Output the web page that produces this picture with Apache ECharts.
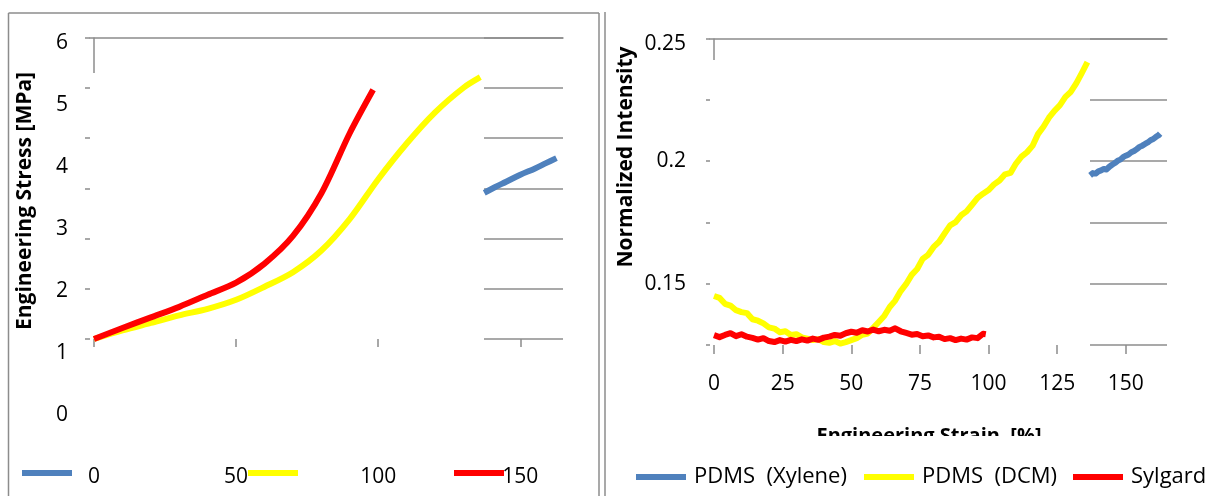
<!DOCTYPE html>
<html>
<head>
<meta charset="utf-8">
<script src="https://cdn.jsdelivr.net/npm/echarts@6/dist/echarts.min.js"></script>
<style>
  html, body { margin: 0; padding: 0; background: #fff; }
  #main { width: 1205px; height: 496px; }
</style>
</head>
<body>
<div id="main"></div>
<script>
// left panel: engineering stress [MPa] vs strain [%]
const stressXylene = [[137.3, 2.91], [141, 3.02], [145, 3.13], [150, 3.27], [155, 3.39], [159, 3.5], [162.7, 3.6]];
const stressDcm = [[0, 0], [10, 0.17], [20, 0.32], [30, 0.47], [40, 0.6], [50, 0.78], [60, 1.04], [70, 1.33],
  [80, 1.76], [90, 2.39], [100, 3.18], [110, 3.89], [120, 4.51], [130, 5.0], [135.9, 5.21]];
const stressSylgard = [[0, 0], [10, 0.22], [20, 0.43], [30, 0.64], [40, 0.88], [50, 1.12], [60, 1.5], [70, 2.05],
  [80, 2.9], [90, 4.1], [98.2, 4.96]];

// right panel: normalized intensity vs strain [%]
const intensityXylene = [[137, 0.1942], [138, 0.1951], [139, 0.1949], [140, 0.1958], [141, 0.1962], [142, 0.1968],
  [143, 0.1966], [144, 0.1977], [145, 0.1985], [146, 0.1992], [147, 0.2001], [148, 0.2006], [149, 0.2016],
  [150, 0.2022], [151, 0.2027], [152, 0.2036], [153, 0.2041], [154, 0.2049], [155, 0.2058], [156, 0.2063],
  [157, 0.207], [158, 0.2076], [159, 0.2085], [160, 0.209], [161, 0.2099], [162, 0.2106], [162.5, 0.2112]];
const intensityDcm = [[0, 0.145], [2, 0.1442], [4, 0.1418], [6, 0.1411], [8, 0.1392], [10, 0.1384], [12, 0.138],
  [14, 0.1355], [16, 0.1349], [18, 0.1338], [20, 0.1322], [22, 0.1317], [24, 0.1302], [26, 0.1306], [28, 0.1291],
  [30, 0.1294], [32, 0.1281], [34, 0.1276], [36, 0.127], [38, 0.1274], [40, 0.1262], [42, 0.1259], [44, 0.1266],
  [46, 0.1256], [48, 0.1262], [50, 0.127], [52, 0.1278], [54, 0.1292], [56, 0.1297], [58, 0.132], [60, 0.1344],
  [62, 0.1368], [64, 0.1405], [66, 0.1431], [68, 0.147], [70, 0.1499], [72, 0.1536], [74, 0.156], [76, 0.1601],
  [78, 0.1618], [80, 0.165], [82, 0.1671], [84, 0.1705], [86, 0.1738], [88, 0.1751], [90, 0.1779], [92, 0.1795],
  [94, 0.1822], [96, 0.185], [98, 0.1867], [100, 0.1882], [102, 0.1905], [104, 0.1921], [106, 0.1946],
  [108, 0.1952], [110, 0.199], [112, 0.2018], [114, 0.2036], [116, 0.2062], [118, 0.211], [120, 0.214],
  [122, 0.2177], [124, 0.2205], [126, 0.2228], [128, 0.2262], [130, 0.2283], [132, 0.2318], [134, 0.236],
  [136, 0.2404]];
const intensitySylgard = [[0, 0.129], [2, 0.1282], [4, 0.1291], [6, 0.1298], [8, 0.1286], [10, 0.1294],
  [12, 0.1284], [14, 0.1279], [16, 0.1272], [18, 0.1278], [20, 0.1266], [22, 0.1262], [24, 0.127], [26, 0.1264],
  [28, 0.1271], [30, 0.1266], [32, 0.1273], [34, 0.1268], [36, 0.1276], [38, 0.1271], [40, 0.128], [42, 0.1284],
  [44, 0.1291], [46, 0.1288], [48, 0.1298], [50, 0.1304], [52, 0.13], [54, 0.131], [56, 0.1305], [58, 0.1313],
  [60, 0.1306], [62, 0.1312], [64, 0.1308], [66, 0.1318], [68, 0.1306], [70, 0.1299], [72, 0.1292], [74, 0.1295],
  [76, 0.1286], [78, 0.1289], [80, 0.1281], [82, 0.1284], [84, 0.1274], [86, 0.1278], [88, 0.127], [90, 0.1276],
  [92, 0.1272], [94, 0.1281], [96, 0.1278], [98, 0.1296], [99, 0.1294]];

// tick labels
const stressTicks = [0, 1, 2, 3, 4, 5, 6];
const leftStrainTicks = [0, 50, 100, 150];
const rightStrainTicks = [0, 25, 50, 75, 100, 125, 150];
const intensityTicks = [0.15, 0.2, 0.25];

const legendNames = ['PDMS  (Xylene)', 'PDMS  (DCM)', 'Sylgard'];
const colors = ['#4f81bd', '#ffff00', '#ff0000'];

const grey = '#8c8c8c';
const font = "'Open Sans', sans-serif";
const greyLine = { color: grey, width: 1.5 };

const hiddenAxis = (gridIndex, min, max) => ({ gridIndex, type: 'value', min, max, show: false });

// thin top axis used only for the top border line of a plot
const topLine = (gridIndex) => ({
  gridIndex,
  type: 'value',
  min: 0,
  max: 1,
  position: 'top',
  axisLine: { show: true, onZero: false, lineStyle: greyLine },
  axisTick: { show: false },
  axisLabel: { show: false },
  splitLine: { show: false },
});

const tickOnlyAxis = (gridIndex, min, max, interval, length) => ({
  gridIndex,
  type: 'value',
  min,
  max,
  interval,
  axisLine: { show: false },
  axisTick: { show: true, length, lineStyle: greyLine },
  axisLabel: { show: false },
  splitLine: { show: false },
});

const gridSegment = (gridIndex, min, max, interval) => ({
  gridIndex,
  type: 'value',
  min,
  max,
  interval,
  axisLine: { show: false },
  axisTick: { show: false },
  axisLabel: { show: false },
  splitLine: { show: true, lineStyle: greyLine },
});

const lineSeries = (name, data, color, xIdx, smooth, width) => ({
  name,
  type: 'line',
  xAxisIndex: xIdx,
  yAxisIndex: xIdx,
  data,
  showSymbol: false,
  smooth,
  color,
  lineStyle: { color, width, join: 'round' },
  z: 3,
});

const legendItem = (name, left, top) => ({
  left,
  top,
  padding: 0,
  data: [name],
  icon: 'rect',
  itemWidth: 50,
  itemHeight: 6,
  selectedMode: false,
  textStyle: { fontSize: 22, fontFamily: font, color: '#000', padding: [0, 0, 0, 3] },
});

const frameLine = (x1, y1, x2, y2) => ({
  type: 'line',
  shape: { x1, y1, x2, y2 },
  style: { stroke: grey, lineWidth: 1.5 },
  z: 1,
});

const title = (text, x, y, rotation, fontSize) => ({
  type: 'text',
  x,
  y,
  rotation,
  z: 5,
  style: {
    text,
    fill: '#000',
    fontSize,
    fontWeight: 'bold',
    fontFamily: font,
    align: 'center',
    verticalAlign: 'middle',
  },
});

const chart = echarts.init(document.getElementById('main'));

const option = {
  animation: false,
  backgroundColor: '#fff',
  grid: [
    { left: 94, top: 37.5, width: 469, height: 301.5 },
    { left: 484, top: 37.5, width: 79, height: 301.5 },
    { left: 90, top: 37.5, width: 473, height: 301.5 },
    { left: 80, top: 43, width: 400, height: 372 },
    { left: 714, top: 38.5, width: 453, height: 306.5 },
    { left: 1090, top: 38.5, width: 77, height: 306.5 },
    { left: 710, top: 38.5, width: 457, height: 306.5 },
  ].map((g) => ({ ...g, outerBoundsMode: 'none', containLabel: false })),
  xAxis: [
    {
      gridIndex: 0,
      type: 'value',
      min: 0,
      max: 165,
      axisLine: { show: false, onZero: false },
      splitLine: { show: false },
      axisTick: { show: true, customValues: leftStrainTicks, length: 8, lineStyle: greyLine },
      axisLabel: { customValues: leftStrainTicks, margin: 128, fontSize: 21, color: '#000', fontFamily: font },
    },
    hiddenAxis(1, 0, 1),
    topLine(2),
    hiddenAxis(3, 0, 1),
    {
      gridIndex: 4,
      type: 'value',
      min: 0,
      max: 165,
      axisLine: { show: false, onZero: false },
      splitLine: { show: false },
      axisTick: { show: true, customValues: rightStrainTicks, length: 9, lineStyle: greyLine },
      axisLabel: { customValues: rightStrainTicks, margin: 29, fontSize: 21, color: '#000', fontFamily: font },
    },
    hiddenAxis(5, 0, 1),
    topLine(6),
  ],
  yAxis: [
    hiddenAxis(0, 0, 6),
    gridSegment(1, 0, 6, 1),
    tickOnlyAxis(2, 0, 6, 1, 5),
    {
      gridIndex: 3,
      type: 'value',
      min: 0,
      max: 6,
      interval: 1,
      axisLine: { show: false },
      axisTick: { show: false },
      splitLine: { show: false },
      axisLabel: { customValues: stressTicks, margin: 12, fontSize: 21, color: '#000', fontFamily: font },
    },
    {
      gridIndex: 4,
      type: 'value',
      min: 0.125,
      max: 0.25,
      interval: 0.025,
      axisLine: { show: false },
      axisTick: { show: false },
      splitLine: { show: false },
      axisLabel: {
        customValues: intensityTicks,
        margin: 28,
        fontSize: 21,
        color: '#000',
        fontFamily: font,
        formatter: (v) => (v > 0.24 ? `{top|${v}}` : `${v}`),
        rich: { top: { fontSize: 21, fontFamily: font, color: '#000', padding: [12, 0, 0, 0] } },
      },
    },
    gridSegment(5, 0.125, 0.25, 0.025),
    tickOnlyAxis(6, 0.125, 0.25, 0.025, 4),
  ],
  legend: [
    { ...legendItem('Xylene stress', 22, 470), formatter: () => '' },
    { ...legendItem('DCM stress', 248, 470), formatter: () => '' },
    { ...legendItem('Sylgard stress', 454, 470), formatter: () => '' },
    legendItem(legendNames[0], 636, 466),
    legendItem(legendNames[1], 864, 466),
    legendItem(legendNames[2], 1073, 466),
  ],
  series: [
    lineSeries('Xylene stress', stressXylene, colors[0], 0, 0.3, 6),
    lineSeries('DCM stress', stressDcm, colors[1], 0, 0.3, 6),
    lineSeries('Sylgard stress', stressSylgard, colors[2], 0, 0.3, 6),
    lineSeries(legendNames[0], intensityXylene, colors[0], 4, false, 6),
    lineSeries(legendNames[1], intensityDcm, colors[1], 4, false, 6),
    lineSeries(legendNames[2], intensitySylgard, colors[2], 4, false, 6),
  ],
  graphic: [
    frameLine(8.5, 13, 599, 13),
    frameLine(8.5, 13, 8.5, 496),
    frameLine(599, 13, 599, 496),
    frameLine(605, 12, 605, 496),
    frameLine(94, 37.5, 94, 73),
    frameLine(714, 38.5, 714, 60),
    title('Engineering Stress [MPa]', 25, 201, Math.PI / 2, 21),
    title('Normalized Intensity', 626, 157, Math.PI / 2, 21),
    title('Engineering Strain  [%]', 929, 436.6, 0, 20),
    // the strain title is cut off under its top half
    {
      type: 'rect',
      shape: { x: 770, y: 436, width: 330, height: 24 },
      style: { fill: '#fff' },
      z: 10,
    },
  ],
};

chart.setOption(option);
</script>
</body>
</html>
